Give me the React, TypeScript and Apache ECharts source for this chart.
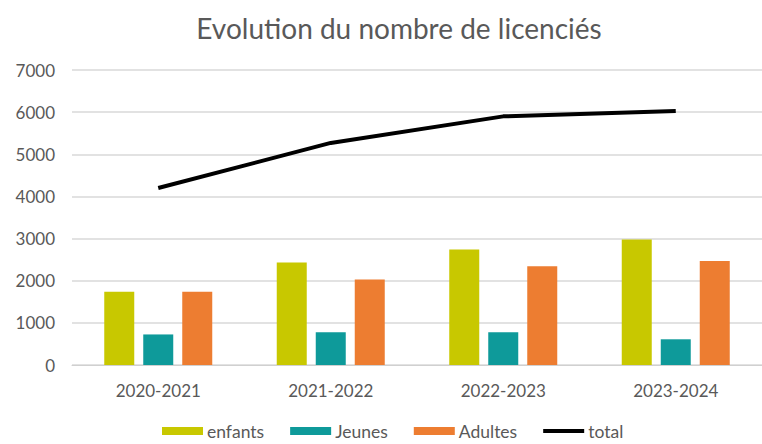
import React, { useEffect, useRef } from "react";
import * as echarts from "echarts";

const categories = ["2020-2021", "2021-2022", "2022-2023", "2023-2024"];
const enfants = [1740, 2435, 2740, 2980];
const jeunes = [725, 780, 780, 610];
const adultes = [1740, 2030, 2345, 2465];
const total = [4200, 5270, 5900, 6030];
const yTicks = { min: 0, max: 7000, interval: 1000 };

const FONT = "Lato";
const TEXT = "#595959";

export default function App() {
  const ref = useRef<HTMLDivElement>(null);
  useEffect(() => {
    if (!ref.current) return;
    const chart = echarts.init(ref.current, null, { renderer: "svg" });
    chart.setOption({
      animation: false,
      backgroundColor: "#ffffff",
      title: {
        text: "Evolution du nombre de licenciés",
        left: 394,
        textAlign: "center",
        top: 9,
        textStyle: { fontFamily: FONT, fontSize: 28, fontWeight: "normal", color: TEXT },
      },
      legend: {
        bottom: -1,
        left: 157,
        itemWidth: 41,
        itemHeight: 8,
        itemGap: 26,
        textStyle: { fontFamily: FONT, fontSize: 17.5, color: TEXT, padding: [0, 0, 0, -1] },
        data: [
          { name: "enfants", icon: "rect" },
          { name: "Jeunes", icon: "rect" },
          { name: "Adultes", icon: "rect" },
          { name: "total", icon: "path://M0 0H41V4H0Z" },
        ],
      },
      grid: { left: 72, top: 70, width: 694, height: 295, containLabel: false },
      xAxis: {
        type: "category",
        data: categories,
        axisLine: { lineStyle: { color: "#d0d0d0", width: 1 } },
        axisTick: { show: false },
        axisLabel: { fontFamily: FONT, fontSize: 17, color: TEXT, margin: 17 },
      },
      yAxis: {
        type: "value",
        min: yTicks.min,
        max: yTicks.max,
        interval: yTicks.interval,
        axisLine: { show: false },
        axisTick: { show: false },
        splitLine: { lineStyle: { color: "#d9d9d9", width: 1.5 } },
        axisLabel: { fontFamily: FONT, fontSize: 17, color: TEXT, margin: 17, formatter: (v: number) => String(v) },
      },
      series: [
        { name: "enfants", type: "bar", data: enfants, barWidth: 30, barGap: "30%", itemStyle: { color: "#C8C800" } },
        { name: "Jeunes", type: "bar", data: jeunes, barWidth: 30, barGap: "30%", itemStyle: { color: "#0E9A9A" } },
        { name: "Adultes", type: "bar", data: adultes, barWidth: 30, barGap: "30%", itemStyle: { color: "#ED7D31" } },
        {
          name: "total",
          type: "line",
          data: total,
          symbol: "none",
          lineStyle: { color: "#000000", width: 4 },
          itemStyle: { color: "#000000" },
        },
      ],
    });
    return () => chart.dispose();
  }, []);
  return <div ref={ref} style={{ width: 762, height: 444, position: "absolute", left: 0, top: 0 }} />;
}
